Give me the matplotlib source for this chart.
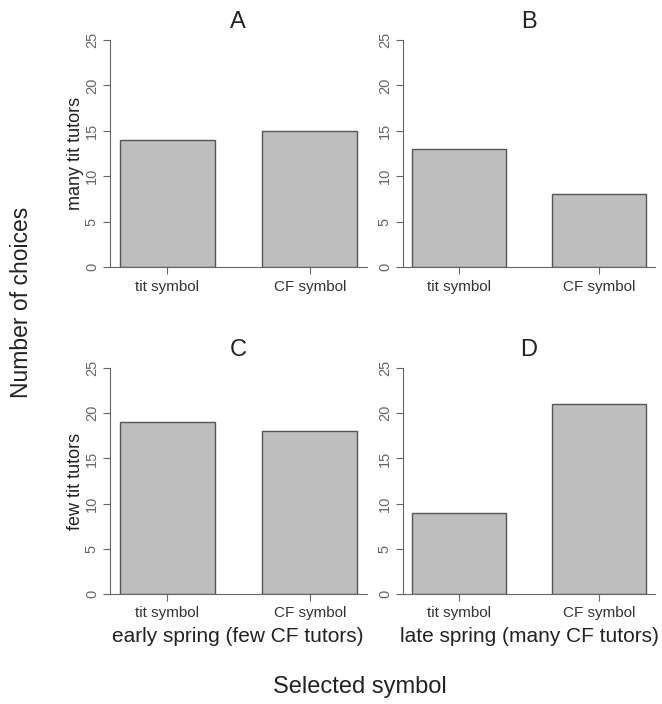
import matplotlib
matplotlib.use("Agg")
import matplotlib.pyplot as plt

plt.rcParams['font.family'] = ['Liberation Sans', 'DejaVu Sans']

categories = ["tit symbol", "CF symbol"]
panel_titles = ["A", "B", "C", "D"]
values_A = [14, 15]
values_B = [13, 8]
values_C = [19, 18]
values_D = [9, 21]
yticks = [0, 5, 10, 15, 20, 25]
row_labels = ["many tit tutors", "few tit tutors"]
col_labels = ["early spring (few CF tutors)", "late spring (many CF tutors)"]

W, H = 662, 704
fig = plt.figure(figsize=(W / 100, H / 100), dpi=100)

def rect(l, r, top, bottom):
    return [l / W, 1 - bottom / H, (r - l) / W, (bottom - top) / H]

def ftext(x, y, s, **kw):
    fig.text(x / W, 1 - y / H, s, ha="center", va="center", color="#222222", **kw)

rects = [rect(110, 367, 40, 267), rect(403, 655, 40, 267),
         rect(110, 367, 368, 594), rect(403, 655, 368, 594)]
data = [values_A, values_B, values_C, values_D]

axis_col = "#666666"
xpos = [0, 1.5]
axes = []
for i, (r, vals, t) in enumerate(zip(rects, data, panel_titles)):
    ax = fig.add_axes(r)
    axes.append(ax)
    ax.bar(xpos, vals, width=1.0, color="#bebebe", edgecolor="#555555", linewidth=1.0, zorder=2)
    ax.set_xlim(-0.6, 2.1)
    ax.set_ylim(0, 25)
    ax.set_xticks(xpos)
    ax.set_xticklabels(categories, fontsize=11, color="#333333")
    ax.set_yticks(yticks)
    ax.set_yticklabels([str(v) for v in yticks], rotation=90, va="center", fontsize=10.5, color="#666666")
    for s in ["top", "right"]:
        ax.spines[s].set_visible(False)
    ax.spines["left"].set_color(axis_col)
    ax.spines["bottom"].set_color(axis_col)
    ax.tick_params(axis="both", colors=axis_col, length=5, width=0.8)
    ax.tick_params(axis="x", labelcolor="#333333", pad=4)
    ax.tick_params(axis="y", labelcolor="#666666", pad=3)

# panel titles
ftext(238, 22, "A", fontsize=17)
ftext(529, 22, "B", fontsize=17)
ftext(238, 350, "C", fontsize=17)
ftext(529, 350, "D", fontsize=17)

# row labels
ftext(76, 153, row_labels[0], fontsize=13, rotation=90)
ftext(76, 481, row_labels[1], fontsize=13, rotation=90)

# column labels
ftext(238, 636, col_labels[0], fontsize=15)
ftext(529, 636, col_labels[1], fontsize=15)

ftext(22, 302, "Number of choices", rotation=90, fontsize=16.5)
ftext(360, 687, "Selected symbol", fontsize=17)

fig.savefig("out.png", dpi=100, facecolor="white")
